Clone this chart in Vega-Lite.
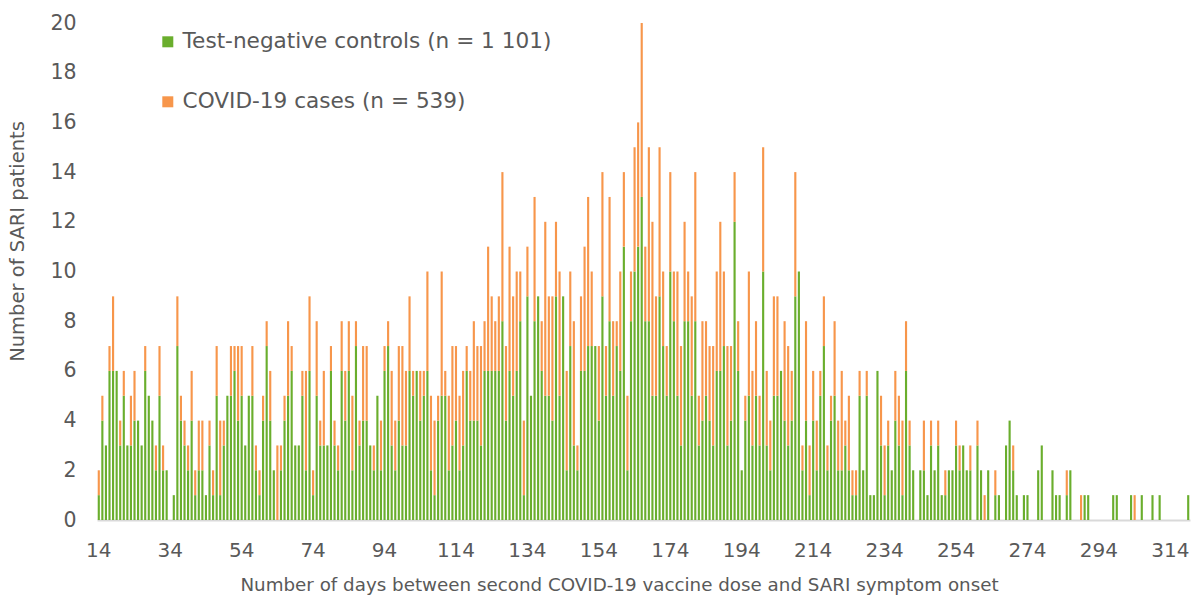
{
"$schema":"https://vega.github.io/schema/vega-lite/v6.json",
"width":1093,"height":497,
"autosize":{"type":"none"},
"padding":{"left":97,"top":23,"right":4,"bottom":83},
"background":"white",
"config":{"view":{"stroke":null},"font":"DejaVu Sans"},
"data":{"values":[
{"day":14,"controls":1,"cases":1},{"day":15,"controls":4,"cases":1},{"day":16,"controls":3,"cases":0},{"day":17,"controls":6,"cases":1},{"day":18,"controls":6,"cases":3},{"day":19,"controls":6,"cases":0},{"day":20,"controls":3,"cases":1},{"day":21,"controls":5,"cases":1},{"day":22,"controls":3,"cases":0},{"day":23,"controls":3,"cases":2},
{"day":24,"controls":4,"cases":2},{"day":25,"controls":4,"cases":0},{"day":26,"controls":3,"cases":0},{"day":27,"controls":6,"cases":1},{"day":28,"controls":5,"cases":0},{"day":29,"controls":4,"cases":0},{"day":30,"controls":2,"cases":1},{"day":31,"controls":5,"cases":2},{"day":32,"controls":2,"cases":1},{"day":33,"controls":2,"cases":0},
{"day":34,"controls":0,"cases":0},{"day":35,"controls":1,"cases":0},{"day":36,"controls":7,"cases":2},{"day":37,"controls":4,"cases":1},{"day":38,"controls":3,"cases":1},{"day":39,"controls":2,"cases":1},{"day":40,"controls":4,"cases":2},{"day":41,"controls":1,"cases":1},{"day":42,"controls":2,"cases":2},{"day":43,"controls":2,"cases":2},
{"day":44,"controls":1,"cases":0},{"day":45,"controls":3,"cases":1},{"day":46,"controls":1,"cases":1},{"day":47,"controls":5,"cases":2},{"day":48,"controls":1,"cases":3},{"day":49,"controls":3,"cases":1},{"day":50,"controls":5,"cases":0},{"day":51,"controls":5,"cases":2},{"day":52,"controls":6,"cases":1},{"day":53,"controls":4,"cases":3},
{"day":54,"controls":5,"cases":2},{"day":55,"controls":3,"cases":0},{"day":56,"controls":5,"cases":0},{"day":57,"controls":5,"cases":2},{"day":58,"controls":2,"cases":1},{"day":59,"controls":1,"cases":1},{"day":60,"controls":4,"cases":1},{"day":61,"controls":7,"cases":1},{"day":62,"controls":4,"cases":2},{"day":63,"controls":2,"cases":0},
{"day":64,"controls":0,"cases":3},{"day":65,"controls":2,"cases":1},{"day":66,"controls":4,"cases":1},{"day":67,"controls":5,"cases":3},{"day":68,"controls":6,"cases":1},{"day":69,"controls":3,"cases":0},{"day":70,"controls":3,"cases":0},{"day":71,"controls":5,"cases":1},{"day":72,"controls":2,"cases":4},{"day":73,"controls":6,"cases":3},
{"day":74,"controls":1,"cases":1},{"day":75,"controls":5,"cases":3},{"day":76,"controls":3,"cases":1},{"day":77,"controls":3,"cases":3},{"day":78,"controls":3,"cases":0},{"day":79,"controls":6,"cases":1},{"day":80,"controls":3,"cases":1},{"day":81,"controls":2,"cases":1},{"day":82,"controls":6,"cases":2},{"day":83,"controls":4,"cases":2},
{"day":84,"controls":6,"cases":2},{"day":85,"controls":2,"cases":3},{"day":86,"controls":7,"cases":1},{"day":87,"controls":3,"cases":1},{"day":88,"controls":4,"cases":3},{"day":89,"controls":4,"cases":3},{"day":90,"controls":3,"cases":0},{"day":91,"controls":2,"cases":1},{"day":92,"controls":5,"cases":0},{"day":93,"controls":2,"cases":2},
{"day":94,"controls":6,"cases":1},{"day":95,"controls":7,"cases":1},{"day":96,"controls":3,"cases":3},{"day":97,"controls":2,"cases":2},{"day":98,"controls":4,"cases":3},{"day":99,"controls":3,"cases":4},{"day":100,"controls":3,"cases":3},{"day":101,"controls":6,"cases":3},{"day":102,"controls":5,"cases":1},{"day":103,"controls":6,"cases":0},
{"day":104,"controls":4,"cases":2},{"day":105,"controls":5,"cases":1},{"day":106,"controls":6,"cases":4},{"day":107,"controls":2,"cases":3},{"day":108,"controls":1,"cases":3},{"day":109,"controls":4,"cases":1},{"day":110,"controls":5,"cases":5},{"day":111,"controls":5,"cases":1},{"day":112,"controls":2,"cases":3},{"day":113,"controls":3,"cases":4},
{"day":114,"controls":4,"cases":3},{"day":115,"controls":2,"cases":3},{"day":116,"controls":3,"cases":3},{"day":117,"controls":6,"cases":1},{"day":118,"controls":4,"cases":2},{"day":119,"controls":4,"cases":4},{"day":120,"controls":4,"cases":3},{"day":121,"controls":3,"cases":4},{"day":122,"controls":6,"cases":2},{"day":123,"controls":6,"cases":5},
{"day":124,"controls":6,"cases":3},{"day":125,"controls":6,"cases":2},{"day":126,"controls":6,"cases":3},{"day":127,"controls":8,"cases":6},{"day":128,"controls":4,"cases":3},{"day":129,"controls":6,"cases":5},{"day":130,"controls":5,"cases":4},{"day":131,"controls":6,"cases":4},{"day":132,"controls":8,"cases":2},{"day":133,"controls":1,"cases":3},
{"day":134,"controls":9,"cases":2},{"day":135,"controls":5,"cases":0},{"day":136,"controls":8,"cases":5},{"day":137,"controls":9,"cases":0},{"day":138,"controls":6,"cases":2},{"day":139,"controls":5,"cases":7},{"day":140,"controls":5,"cases":4},{"day":141,"controls":4,"cases":5},{"day":142,"controls":9,"cases":3},{"day":143,"controls":5,"cases":5},
{"day":144,"controls":9,"cases":0},{"day":145,"controls":2,"cases":4},{"day":146,"controls":7,"cases":3},{"day":147,"controls":3,"cases":5},{"day":148,"controls":2,"cases":1},{"day":149,"controls":6,"cases":3},{"day":150,"controls":6,"cases":5},{"day":151,"controls":7,"cases":6},{"day":152,"controls":7,"cases":3},{"day":153,"controls":7,"cases":0},
{"day":154,"controls":4,"cases":3},{"day":155,"controls":9,"cases":5},{"day":156,"controls":5,"cases":2},{"day":157,"controls":8,"cases":5},{"day":158,"controls":5,"cases":3},{"day":159,"controls":7,"cases":1},{"day":160,"controls":6,"cases":4},{"day":161,"controls":11,"cases":3},{"day":162,"controls":2,"cases":3},{"day":163,"controls":8,"cases":2},
{"day":164,"controls":10,"cases":5},{"day":165,"controls":11,"cases":5},{"day":166,"controls":13,"cases":7},{"day":167,"controls":8,"cases":3},{"day":168,"controls":8,"cases":7},{"day":169,"controls":5,"cases":7},{"day":170,"controls":5,"cases":4},{"day":171,"controls":9,"cases":6},{"day":172,"controls":7,"cases":3},{"day":173,"controls":5,"cases":2},
{"day":174,"controls":10,"cases":4},{"day":175,"controls":8,"cases":2},{"day":176,"controls":5,"cases":5},{"day":177,"controls":3,"cases":4},{"day":178,"controls":8,"cases":4},{"day":179,"controls":8,"cases":2},{"day":180,"controls":5,"cases":4},{"day":181,"controls":8,"cases":6},{"day":182,"controls":3,"cases":2},{"day":183,"controls":4,"cases":4},
{"day":184,"controls":5,"cases":3},{"day":185,"controls":4,"cases":3},{"day":186,"controls":3,"cases":4},{"day":187,"controls":6,"cases":4},{"day":188,"controls":6,"cases":6},{"day":189,"controls":7,"cases":3},{"day":190,"controls":3,"cases":4},{"day":191,"controls":4,"cases":3},{"day":192,"controls":12,"cases":2},{"day":193,"controls":6,"cases":2},
{"day":194,"controls":2,"cases":0},{"day":195,"controls":4,"cases":1},{"day":196,"controls":5,"cases":5},{"day":197,"controls":3,"cases":3},{"day":198,"controls":5,"cases":3},{"day":199,"controls":3,"cases":2},{"day":200,"controls":10,"cases":5},{"day":201,"controls":3,"cases":3},{"day":202,"controls":2,"cases":2},{"day":203,"controls":5,"cases":4},
{"day":204,"controls":5,"cases":4},{"day":205,"controls":6,"cases":0},{"day":206,"controls":4,"cases":4},{"day":207,"controls":3,"cases":4},{"day":208,"controls":4,"cases":2},{"day":209,"controls":9,"cases":5},{"day":210,"controls":10,"cases":0},{"day":211,"controls":2,"cases":1},{"day":212,"controls":4,"cases":4},{"day":213,"controls":1,"cases":2},
{"day":214,"controls":4,"cases":2},{"day":215,"controls":2,"cases":2},{"day":216,"controls":5,"cases":1},{"day":217,"controls":7,"cases":2},{"day":218,"controls":2,"cases":1},{"day":219,"controls":4,"cases":1},{"day":220,"controls":5,"cases":3},{"day":221,"controls":2,"cases":2},{"day":222,"controls":2,"cases":4},{"day":223,"controls":3,"cases":1},
{"day":224,"controls":2,"cases":3},{"day":225,"controls":1,"cases":1},{"day":226,"controls":1,"cases":1},{"day":227,"controls":5,"cases":1},{"day":228,"controls":2,"cases":0},{"day":229,"controls":5,"cases":1},{"day":230,"controls":1,"cases":0},{"day":231,"controls":1,"cases":0},{"day":232,"controls":6,"cases":0},{"day":233,"controls":3,"cases":2},
{"day":234,"controls":1,"cases":2},{"day":235,"controls":3,"cases":1},{"day":236,"controls":2,"cases":0},{"day":237,"controls":4,"cases":2},{"day":238,"controls":3,"cases":2},{"day":239,"controls":1,"cases":3},{"day":240,"controls":6,"cases":2},{"day":241,"controls":3,"cases":1},{"day":242,"controls":2,"cases":0},{"day":243,"controls":0,"cases":0},
{"day":244,"controls":2,"cases":0},{"day":245,"controls":2,"cases":2},{"day":246,"controls":1,"cases":0},{"day":247,"controls":3,"cases":1},{"day":248,"controls":2,"cases":0},{"day":249,"controls":3,"cases":1},{"day":250,"controls":1,"cases":0},{"day":251,"controls":1,"cases":1},{"day":252,"controls":2,"cases":0},{"day":253,"controls":2,"cases":0},
{"day":254,"controls":3,"cases":1},{"day":255,"controls":2,"cases":1},{"day":256,"controls":3,"cases":0},{"day":257,"controls":2,"cases":0},{"day":258,"controls":2,"cases":1},{"day":259,"controls":0,"cases":0},{"day":260,"controls":3,"cases":1},{"day":261,"controls":2,"cases":0},{"day":262,"controls":0,"cases":1},{"day":263,"controls":2,"cases":0},
{"day":264,"controls":0,"cases":0},{"day":265,"controls":1,"cases":1},{"day":266,"controls":1,"cases":0},{"day":267,"controls":0,"cases":0},{"day":268,"controls":3,"cases":0},{"day":269,"controls":4,"cases":0},{"day":270,"controls":2,"cases":1},{"day":271,"controls":1,"cases":0},{"day":272,"controls":0,"cases":0},{"day":273,"controls":1,"cases":0},
{"day":274,"controls":1,"cases":0},{"day":275,"controls":0,"cases":0},{"day":276,"controls":0,"cases":0},{"day":277,"controls":2,"cases":0},{"day":278,"controls":3,"cases":0},{"day":279,"controls":0,"cases":0},{"day":280,"controls":0,"cases":0},{"day":281,"controls":2,"cases":0},{"day":282,"controls":1,"cases":0},{"day":283,"controls":1,"cases":0},
{"day":284,"controls":0,"cases":0},{"day":285,"controls":1,"cases":1},{"day":286,"controls":2,"cases":0},{"day":287,"controls":0,"cases":0},{"day":288,"controls":0,"cases":0},{"day":289,"controls":0,"cases":1},{"day":290,"controls":1,"cases":0},{"day":291,"controls":1,"cases":0},{"day":292,"controls":0,"cases":0},{"day":293,"controls":0,"cases":0},
{"day":294,"controls":0,"cases":0},{"day":295,"controls":0,"cases":0},{"day":296,"controls":0,"cases":0},{"day":297,"controls":0,"cases":0},{"day":298,"controls":1,"cases":0},{"day":299,"controls":1,"cases":0},{"day":300,"controls":0,"cases":0},{"day":301,"controls":0,"cases":0},{"day":302,"controls":0,"cases":0},{"day":303,"controls":1,"cases":0},
{"day":304,"controls":0,"cases":1},{"day":305,"controls":0,"cases":0},{"day":306,"controls":1,"cases":0},{"day":307,"controls":0,"cases":0},{"day":308,"controls":0,"cases":0},{"day":309,"controls":1,"cases":0},{"day":310,"controls":0,"cases":0},{"day":311,"controls":1,"cases":0},{"day":312,"controls":0,"cases":0},{"day":313,"controls":0,"cases":0},
{"day":314,"controls":0,"cases":0},{"day":315,"controls":0,"cases":0},{"day":316,"controls":0,"cases":0},{"day":317,"controls":0,"cases":0},{"day":318,"controls":0,"cases":0},{"day":319,"controls":1,"cases":0}
]},
"transform":[{"fold":["controls","cases"],"as":["group","n"]}],
"mark":{"type":"bar"},
"encoding":{
"x":{"field":"day","type":"ordinal","scale":{"paddingInner":0.4,"paddingOuter":0.2},
"axis":{"values":[14,34,54,74,94,114,134,154,174,194,214,234,254,274,294,314],"labelAngle":0,"ticks":false,"domainColor":"#d9d9d9","domainWidth":2,"labelFontSize":20,"labelColor":"#595959","labelPadding":20,"labelBaseline":"top","title":"Number of days between second COVID-19 vaccine dose and SARI symptom onset","titleFontSize":18.3,"titleFontWeight":"normal","titleColor":"#595959","titlePadding":16,"titleX":522,"titleAlign":"center","titleAnchor":"start"}},
"y":{"field":"n","type":"quantitative","stack":"zero","scale":{"domain":[0,20]},
"axis":{"values":[0,2,4,6,8,10,12,14,16,18,20],"grid":false,"domain":false,"ticks":false,"labelFontSize":20.5,"labelColor":"#595959","labelPadding":21,"title":"Number of SARI patients","titleFontSize":19.5,"titleFontWeight":"normal","titleColor":"#595959","titlePadding":22,"titleY":218,"titleAlign":"center","titleAnchor":"start"}},
"color":{"field":"group","type":"nominal","scale":{"domain":["controls","cases"],"range":["#6aae2d","#f7964b"]},
"legend":{"title":null,"orient":"none","legendX":60,"legendY":8,"direction":"vertical","symbolType":"square","symbolSize":121,"symbolStrokeWidth":0,"labelFontSize":21.6,"labelColor":"#595959","rowPadding":37,"labelOffset":4,"labelLimit":600,
"labelExpr":"datum.value == 'controls' ? 'Test-negative controls (n = 1 101)' : 'COVID-19 cases (n = 539)'"}},
"order":{"field":"group","sort":"descending"}
}
}
